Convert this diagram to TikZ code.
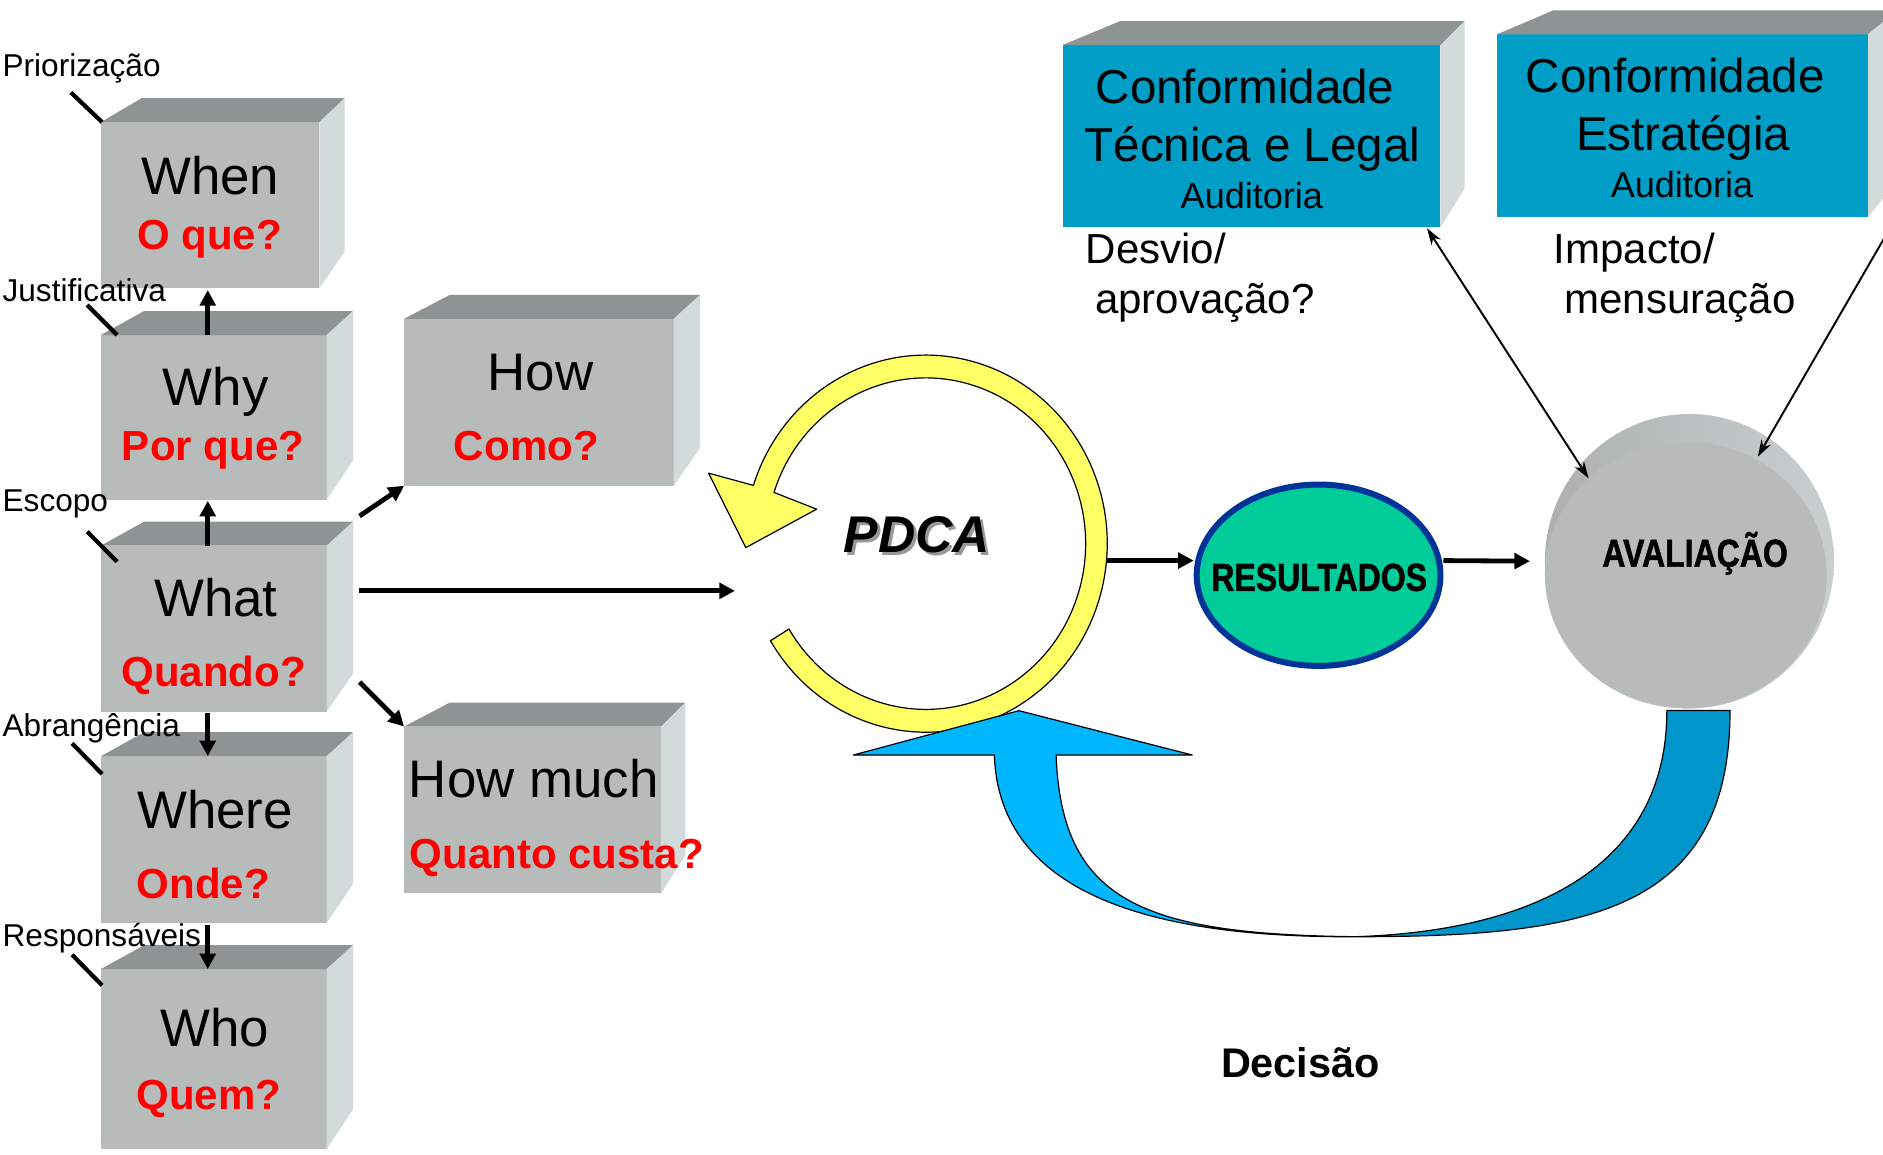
\documentclass[tikz,border=0pt]{standalone}
\usepackage{fontspec}
\setmainfont{Liberation Sans}
\newfontfamily\heavyfont{Liberation Sans Bold}[FakeStretch=0.82, FakeBold=1.2]
\usetikzlibrary{arrows.meta,calc,shapes.geometric}
\definecolor{frontgray}{RGB}{183,188,187}
\definecolor{topgray}{RGB}{142,147,147}
\definecolor{sidegray}{RGB}{211,219,218}
\definecolor{tealbox}{RGB}{0,158,198}
\definecolor{ringyellow}{RGB}{255,255,102}
\definecolor{resgreen}{RGB}{0,204,153}
\definecolor{resblue}{RGB}{0,51,153}
\definecolor{lightblue}{RGB}{0,183,255}
\definecolor{darkblue}{RGB}{0,150,204}
\definecolor{rimleft}{RGB}{172,177,176}
\definecolor{rimmid}{RGB}{140,145,145}
\definecolor{rimright}{RGB}{200,207,206}
\newcommand\fs[1]{\fontsize{#1}{#1}\selectfont}
\newcommand\mycube[9][frontgray]{%
  \node[cubefront, fill=#1, minimum width={(#5)-(#3)}, minimum height={(#6)-(#4)}] (#2) at ({((#3)+(#5))/2},{-((#4)+(#6))/2}) {};
  \fill[topgray] (#2.north west) -- ({#7},{20-(#4)}) -- ({#8},{20-(#4)}) -- (#2.north east) -- cycle;
  \fill[sidegray] (#2.north east) -- ({#8},{20-(#4)}) -- ({#8},{-(#9)}) -- (#2.south east) -- cycle;
}
\tikzset{
  cubefront/.style={rectangle, inner sep=0pt, outer sep=0pt, draw=none},
  bigtxt/.style={font=\fs{44}, anchor=base, inner sep=0pt},
  redtxt/.style={font=\bfseries\fs{35}, text=red, anchor=base, inner sep=0pt},
  smalltxt/.style={font=\fs{26.3}, anchor=base west, inner sep=0pt},
  tealbig/.style={font=\fs{39.6}, anchor=base, inner sep=0pt},
  tealsmall/.style={font=\fs{30}, anchor=base, inner sep=0pt},
  notetxt/.style={font=\fs{35}, anchor=base west, inner sep=0pt},
  narrowbold/.style={font=\heavyfont\fs{32.5}, anchor=base, inner sep=0pt},
  thickarr/.style={line width=4pt, -{Triangle[length=13pt,width=13pt]}},
  thinarr/.style={line width=1.6pt, -{Stealth[length=14pt,width=9pt]}},
  thinarrboth/.style={line width=1.6pt, {Stealth[length=14pt,width=9pt]}-{Stealth[length=14pt,width=9pt]}},
  leader/.style={line width=3.5pt},
  outline/.style={draw=black, line width=1pt, line join=round},
}
\begin{document}
\begin{tikzpicture}[x=1pt,y=1pt]
\useasboundingbox (0,0) rectangle (1568,-961);
\fill[white] (0,0) rectangle (1568,-961);

% ---- cubes
\mycube{when}{84}{101.7}{266}{240}{118}{287}{209.5}
\mycube{why}{84}{279}{272}{416}{120}{294}{383.5}
\mycube{what}{84}{454.4}{272}{592.5}{120}{294}{561}
\mycube{where}{84}{629.7}{272}{768.5}{120}{294}{736}
\mycube{who}{84}{807}{272}{957}{120}{294}{923.6}
\mycube{how}{336.5}{265.5}{561}{404.5}{374.7}{583}{372.8}
\mycube{howmuch}{336.5}{605}{550.6}{743.8}{374.7}{570.8}{712}
\mycube[tealbox]{tecnica}{884.8}{37.5}{1199.5}{189.3}{933}{1219.7}{156.8}
\mycube[tealbox]{estrategia}{1246.6}{28.6}{1555.5}{181}{1293.6}{1580}{150}

% ---- texts in cubes
\node[bigtxt] (whenT) at (175,-161.7) {When};
\node[redtxt] (whenQ) at (174.4,-208) {O que?};
\node[bigtxt] (whyT) at (179.7,-338) {Why};
\node[redtxt] (whyQ) at (177.4,-383.5) {Por que?};
\node[bigtxt] (howT) at (450.2,-325) {How};
\node[redtxt] (howQ) at (438.3,-383.5) {Como?};
\node[bigtxt] (whatT) at (179.7,-513.6) {What};
\node[redtxt] (whatQ) at (178,-572) {Quando?};
\node[bigtxt] (whereT) at (179.1,-689.6) {Where};
\node[redtxt] (whereQ) at (169.2,-748) {Onde?};
\node[bigtxt] (whoT) at (178.8,-871.6) {Who};
\node[redtxt] (whoQ) at (174,-923.6) {Quem?};
\node[bigtxt, anchor=base west] (howmuchT) at (340.3,-664.4) {How much};
\node[redtxt, anchor=base west] (howmuchQ) at (341,-723.4) {Quanto custa?};

% ---- side labels and leader lines
\node[smalltxt] (prio) at (2,-64) {Priorização};
\node[smalltxt] (just) at (2,-251) {Justificativa};
\node[smalltxt] (esc) at (2,-425.7) {Escopo};
\node[smalltxt] (abr) at (2,-613) {Abrangência};
\node[smalltxt] (resp) at (2,-788) {Responsáveis};
\coordinate (prioL) at (59,-77);
\coordinate (justL) at (72.6,-254);
\coordinate (escL) at (72.6,-442.7);
\coordinate (abrL) at (60,-619);
\coordinate (respL) at (60,-795);
\draw[leader] (prioL) -- ([xshift=1pt]when.north west);
\draw[leader] (justL) -- ([xshift=13.5pt]why.north west);
\draw[leader] (escL) -- ([shift={(13.5pt,-13.3pt)}]what.north west);
\draw[leader] (abrL) -- ([shift={(1pt,-14.8pt)}]where.north west);
\draw[leader] (respL) -- ([shift={(1pt,-13.5pt)}]who.north west);

% ---- column arrows
\draw[thickarr] ([xshift=-5pt]why.north) -- ([xshift=-2pt,yshift=-1.5pt]when.south);
\draw[thickarr] ([xshift=-5pt]what.north) -- ([xshift=-5pt,yshift=-1pt]why.south);
\draw[thickarr] ([xshift=-5pt,yshift=-1.5pt]what.south) -- ([xshift=-5pt]where.north);
\draw[thickarr] ([xshift=-5pt,yshift=-1.5pt]where.south) -- ([xshift=-5pt]who.north);
\draw[thickarr] ([shift={(27.4pt,24.7pt)}]what.north east) -- (how.south west);
\draw[thickarr] ([shift={(27.4pt,24.5pt)}]what.south east) -- (howmuch.north west);
\coordinate (pdcaIn) at (612,-492);
\draw[thickarr] ([shift={(27pt,-37.6pt)}]what.north east) -- (pdcaIn);

% ---- PDCA ring
\coordinate (C) at (771,-452.7);
\filldraw[fill=ringyellow, outline]
  ($(C)+(211:151 and 157)$) arc[start angle=211, end angle=522, x radius=151, y radius=157]
  -- (590,-394) -- (621,-456) -- (680,-424)
  -- ($(C)+(162:133 and 138)$) arc[start angle=162, end angle=-149, x radius=133, y radius=138]
  -- cycle;
\node[font=\bfseries\itshape\fs{43}, anchor=base, inner sep=0pt, text=black!40] (pdcaS) at (766,-462.5) {PDCA};
\node[font=\bfseries\itshape\fs{43}, anchor=base, inner sep=0pt] (pdca) at (763.5,-460) {PDCA};
\coordinate (ringE) at (921.5,-466.8);

% ---- RESULTADOS
\node[ellipse, draw=resblue, line width=5pt, fill=resgreen, minimum width=203, minimum height=151, inner sep=0pt] (res) at (1098,-479) {};
\node[narrowbold] (resT) at (1098.5,-492) {RESULTADOS};

% ---- AVALIACAO
\node[ellipse, minimum width=240.6, minimum height=245.2, inner sep=0pt, outer sep=0pt, left color=rimleft, middle color=rimmid, right color=rimright] (aval) at (1406.8,-467.3) {};
\fill[frontgray] (1403.8,-478.8) ellipse[x radius=117.3, y radius=111];
\node[narrowbold] (avalT) at (1411.5,-471.9) {AVALIAÇÃO};

\draw[thickarr] (ringE) -- ([yshift=12.2pt]res.west);
\draw[thickarr] ([yshift=12.2pt]res.east) -- ([xshift=-12.5pt]aval.west);

% ---- feedback arrow (Decisao)
\filldraw[fill=lightblue, outline]
  (710.6,-628.7) -- (848.5,-591.8) -- (992.8,-628.7) -- (879.4,-628.7)
  .. controls (884,-750) and (950,-778) .. (1129,-780)
  .. controls (960,-781) and (832,-745) .. (828,-628.7) -- cycle;
\filldraw[fill=darkblue, outline]
  (1388,-591.6) -- (1440.6,-591.6)
  .. controls (1440.6,-760) and (1320,-780) .. (1129,-780)
  .. controls (1280,-775) and (1388,-720) .. (1388,-591.6) -- cycle;
\node[font=\bfseries\fs{34.5}, anchor=base, inner sep=0pt] (dec) at (1082.9,-897.1) {Decisão};

% ---- texts of the teal boxes
\node[tealbig] (t1a) at (1036.8,-86) {Conformidade};
\node[tealbig] (t1b) at (1042.9,-134.6) {Técnica e Legal};
\node[tealsmall] (t1c) at (1042.4,-173.5) {Auditoria};
\node[tealbig] (t2a) at (1395,-77.2) {Conformidade};
\node[tealbig] (t2b) at (1401.5,-125.5) {Estratégia};
\node[tealsmall] (t2c) at (1400.6,-164.3) {Auditoria};
\node[notetxt] (n1a) at (904,-219.3) {Desvio/};
\node[notetxt] (n1b) at (911.7,-260.9) {aprovação?};
\node[notetxt] (n2a) at (1293.6,-219.3) {Impacto/};
\node[notetxt] (n2b) at (1302.5,-260.9) {mensuração};

% ---- thin arrows to AVALIACAO
\draw[thinarrboth] ([xshift=-11.2pt,yshift=-0.8pt]tecnica.south east) -- ([shift={(-84pt,69pt)}]aval.center);
\coordinate (estrOut) at (1590,-162);
\draw[thinarr] (estrOut) -- ([shift={(56.9pt,87pt)}]aval.center);
\end{tikzpicture}
\end{document}
